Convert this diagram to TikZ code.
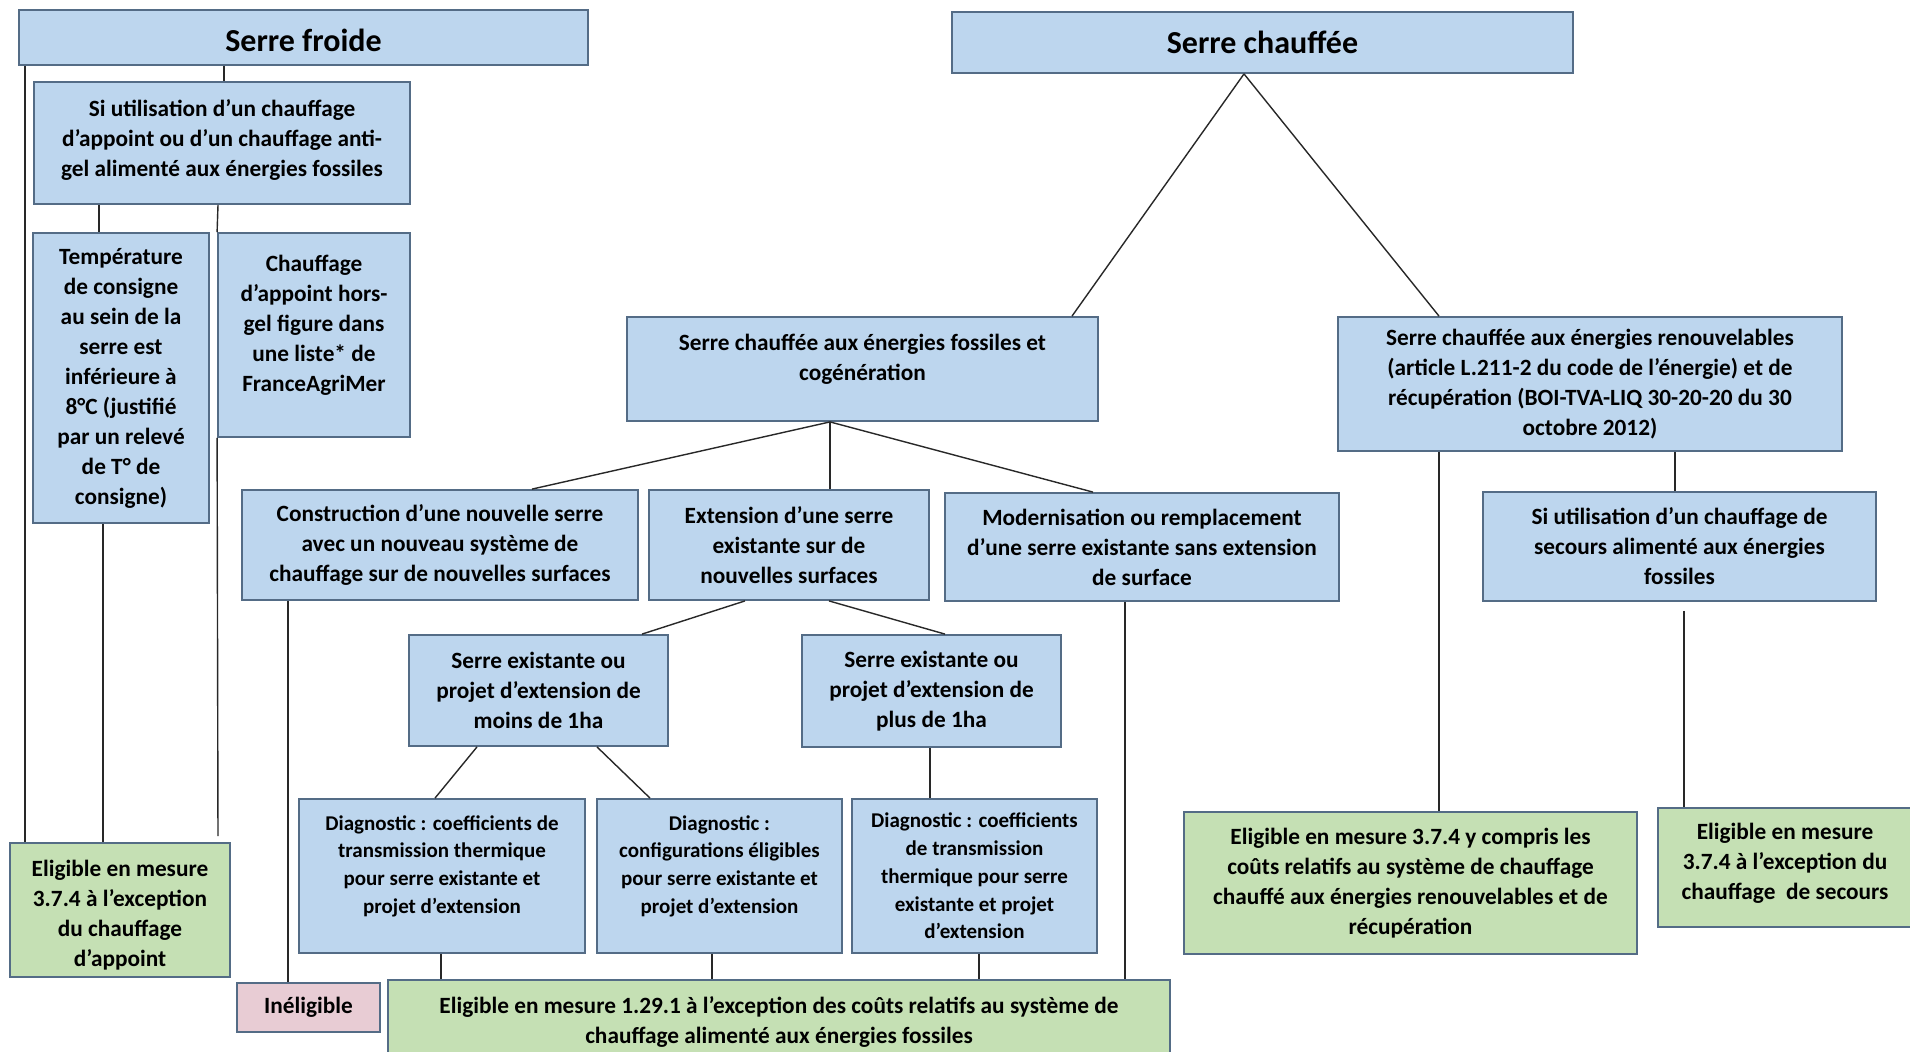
\documentclass[tikz,border=0pt]{standalone}
\usepackage{fontspec}
\setmainfont{Carlito}
\definecolor{bluef}{RGB}{189,214,238}
\definecolor{greenf}{RGB}{197,224,180}
\definecolor{pinkf}{RGB}{232,204,212}
\definecolor{bordc}{RGB}{84,108,134}
\definecolor{linec}{RGB}{40,40,40}
\newcommand\bodyf{\fontsize{11.65pt}{15pt}\selectfont\bfseries}
\newcommand\diagf{\fontsize{10.5pt}{13.85pt}\selectfont\bfseries}
\newcommand\titlef{\fontsize{16pt}{19pt}\selectfont\bfseries}
% box with text centred: name, style, x1, y1, x2, y2, text
\newcommand\bx[7]{\node[#2, minimum width={(#5-#3)*0.5pt}, minimum height={(#6-#4)*0.5pt}] (#1) at ({(#3+#5)/2},{(#4+#6)/2}) {#7};}
\tikzset{
  base/.style={draw=bordc, line width=0.9pt, inner sep=0pt, align=center, font=\bodyf},
  bluebox/.style={base, fill=bluef},
  greenbox/.style={base, fill=greenf},
  pinkbox/.style={base, fill=pinkf},
  diagbox/.style={bluebox, font=\diagf},
  titlebox/.style={bluebox, font=\titlef},
  txt/.style={inner sep=0pt, align=center},
  conn/.style={draw=linec, line width=0.7pt},
}
\begin{document}
\begin{tikzpicture}[x=0.5pt,y=-0.5pt]
\clip (0,0) rectangle (1910,1051);
\fill[white] (0,0) rectangle (1910,1051);
% ---- Serre froide branch
\node[titlebox, minimum width={(588-19)*0.5pt}, minimum height={(65-10)*0.5pt}] (sf) at ({(19+588)/2},{(10+65)/2}) {};
\node[txt, font=\titlef] (sft) at ([yshift=-1.5pt]sf.center) {Serre froide};
\node[bluebox, minimum width={(410-34)*0.5pt}, minimum height={(204-82)*0.5pt}] (si) at ({(34+410)/2},{(82+204)/2}) {};
\node[txt, font=\bodyf] (sit) at ([yshift=1.5pt]si.center) {Si utilisation d’un chauffage\\d’appoint ou d’un chauffage anti-\\gel alimenté aux énergies fossiles};
\bx{temp}{bluebox}{33}{233}{209}{523}{Température\\de consigne\\au sein de la\\serre est\\inférieure à\\8°C (justifié\\par un relevé\\de T° de\\consigne)}
\node[bluebox, minimum width={(410-218)*0.5pt}, minimum height={(437-233)*0.5pt}] (chg) at ({(218+410)/2},{(233+437)/2}) {};
\node[txt, font=\bodyf] (chgt) at ([yshift=5pt]chg.center) {Chauffage\\d’appoint hors-\\gel figure dans\\une liste* de\\FranceAgriMer};
\node[greenbox, minimum width={(230-10)*0.5pt}, minimum height={(977-843)*0.5pt}] (ea) at ({(10+230)/2},{(843+977)/2}) {};
\node[txt, font=\bodyf] (eat) at ([yshift=-2.5pt]ea.center) {Eligible en mesure\\3.7.4 à l’exception\\du chauffage\\d’appoint};
% ---- Serre chauffee branch
\bx{sc}{titlebox}{952}{12}{1573}{73}{Serre chauffée}
\node[bluebox, minimum width={(1098-627)*0.5pt}, minimum height={(421-317)*0.5pt}] (fos) at ({(627+1098)/2},{(317+421)/2}) {};
\node[txt, font=\bodyf] (fost) at ([yshift=5pt]fos.center) {Serre chauffée aux énergies fossiles et\\cogénération};
\bx{ren}{bluebox}{1338}{317}{1842}{451}{Serre chauffée aux énergies renouvelables\\(article L.211-2 du code de l’énergie) et de\\récupération (BOI-TVA-LIQ 30-20-20 du 30\\octobre 2012)}
\bx{sec}{bluebox}{1483}{492}{1876}{601}{Si utilisation d’un chauffage de\\secours alimenté aux énergies\\fossiles}
\bx{con}{bluebox}{242}{490}{638}{600}{Construction d’une nouvelle serre\\avec un nouveau système de\\chauffage sur de nouvelles surfaces}
\bx{ext}{bluebox}{649}{490}{929}{600}{Extension d’une serre\\existante sur de\\nouvelles surfaces}
\bx{mod}{bluebox}{945}{493}{1339}{601}{Modernisation ou remplacement\\d’une serre existante sans extension\\de surface}
\bx{moins}{bluebox}{409}{635}{668}{746}{Serre existante ou\\projet d’extension de\\moins de 1ha}
\bx{plus}{bluebox}{802}{635}{1061}{747}{Serre existante ou\\projet d’extension de\\plus de 1ha}
\node[diagbox, minimum width={(585-299)*0.5pt}, minimum height={(953-799)*0.5pt}] (d1) at ({(299+585)/2},{(799+953)/2}) {};
\node[txt, font=\diagf] (d1t) at ([yshift=5pt]d1.center) {Diagnostic : coefficients de\\transmission thermique\\pour serre existante et\\projet d’extension};
\node[diagbox, minimum width={(842-597)*0.5pt}, minimum height={(953-799)*0.5pt}] (d2) at ({(597+842)/2},{(799+953)/2}) {};
\node[txt, font=\diagf] (d2t) at ([yshift=5pt]d2.center) {Diagnostic :\\configurations éligibles\\pour serre existante et\\projet d’extension};
\bx{d3}{diagbox}{852}{799}{1097}{953}{Diagnostic : coefficients\\de transmission\\thermique pour serre\\existante et projet\\d’extension}
\bx{inel}{pinkbox}{237}{983}{380}{1032}{Inéligible}
\node[greenbox, minimum width={(1170-388)*0.5pt}, minimum height={(1065-980)*0.5pt}] (e129) at ({(388+1170)/2},{(980+1065)/2}) {};
\node[txt, font=\bodyf] (e129t) at (779,1022) {Eligible en mesure 1.29.1 à l’exception des coûts relatifs au système de\\chauffage alimenté aux énergies fossiles};
\bx{ey}{greenbox}{1184}{812}{1637}{954}{Eligible en mesure 3.7.4 y compris les\\coûts relatifs au système de chauffage\\chauffé aux énergies renouvelables et de\\récupération}
\node[greenbox, minimum width={(1925-1658)*0.5pt}, minimum height={(927-808)*0.5pt}] (es) at ({(1658+1925)/2},{(808+927)/2}) {};
\node[txt, font=\bodyf] (est) at (1785,863) {Eligible en mesure\\3.7.4 à l’exception du\\chauffage~ de secours};
% ---- connectors
\draw[conn] (sf.south -| 224,0) -- (si.north -| 224,0);
\draw[conn] (sf.south -| 25,0) -- (ea.north -| 25,0);
\draw[conn] (si.south -| 99,0) -- (temp.north -| 99,0);
\draw[conn] (si.south -| 218,0) -- (chg.north west);
\draw[conn] (temp.south -| 103,0) -- (ea.north -| 103,0);
\draw[conn, shorten >=3pt] (chg.south west) -- (ea.north -| 218,0);
\draw[conn] (sc.south -| 1244,0) -- (fos.north -| 1072,0);
\draw[conn] (sc.south -| 1244,0) -- (ren.north -| 1439,0);
\draw[conn] (fos.south -| 830,0) -- (con.north -| 532,0);
\draw[conn] (fos.south -| 830,0) -- (ext.north -| 830,0);
\draw[conn] (fos.south -| 830,0) -- (mod.north -| 1093,0);
\draw[conn] (ext.south -| 745,0) -- (moins.north -| 642,0);
\draw[conn] (ext.south -| 829,0) -- (plus.north -| 945,0);
\draw[conn] (con.south -| 288,0) -- (inel.north -| 288,0);
\draw[conn] (mod.south -| 1125,0) -- (e129.north -| 1125,0);
\draw[conn] (moins.south -| 477,0) -- (d1.north -| 435,0);
\draw[conn] (moins.south -| 597,0) -- (d2.north -| 650,0);
\draw[conn] (plus.south -| 930,0) -- (d3.north -| 930,0);
\draw[conn] (d1.south -| 441,0) -- (e129.north -| 441,0);
\draw[conn] (d2.south -| 712,0) -- (e129.north -| 712,0);
\draw[conn] (d3.south -| 979,0) -- (e129.north -| 979,0);
\draw[conn] (ren.south -| 1439,0) -- (ey.north -| 1439,0);
\draw[conn] (ren.south -| 1675,0) -- (sec.north -| 1675,0);
\draw[conn, shorten <=4.5pt] (sec.south -| 1684,0) -- (es.north -| 1684,0);
\end{tikzpicture}
\end{document}
